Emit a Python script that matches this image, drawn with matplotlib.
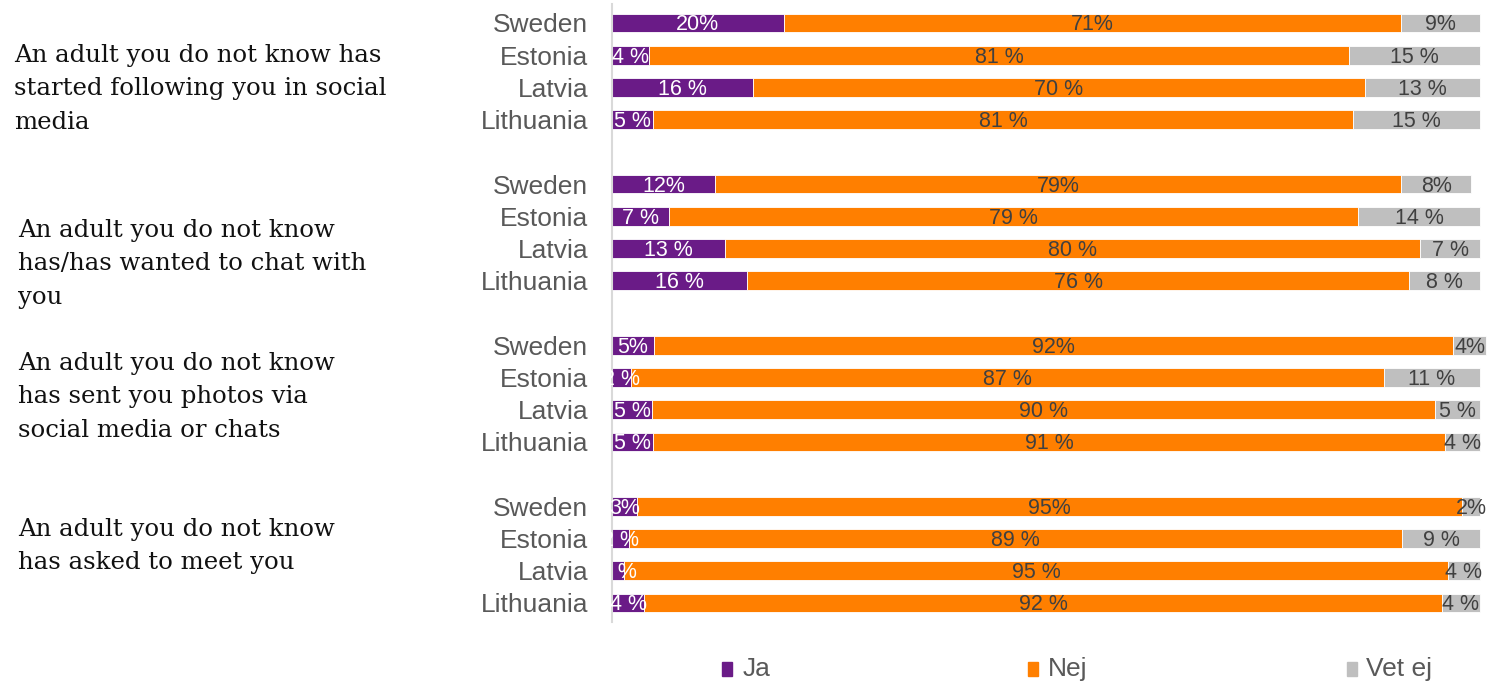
import matplotlib
matplotlib.use("Agg")
import matplotlib.pyplot as plt
from matplotlib.patches import Rectangle

countries = ["Sweden", "Estonia", "Latvia", "Lithuania"]
questions = [
    "An adult you do not know has\nstarted following you in social\nmedia",
    "An adult you do not know\nhas/has wanted to chat with\nyou",
    "An adult you do not know\nhas sent you photos via\nsocial media or chats",
    "An adult you do not know\nhas asked to meet you",
]
# values per question, per country (Sweden, Estonia, Latvia, Lithuania)
ja = [
    [19.8, 4.3, 16.3, 4.7],
    [11.9, 6.6, 13.0, 15.6],
    [4.8, 2.2, 4.6, 4.7],
    [2.9, 2.0, 1.4, 3.7],
]
nej = [
    [71.1, 80.6, 70.4, 80.7],
    [79.0, 79.4, 80.1, 76.2],
    [92.1, 86.7, 90.2, 91.3],
    [95.0, 89.0, 94.9, 91.9],
]
vet_ej = [
    [9.1, 15.1, 13.3, 14.6],
    [8.1, 14.0, 6.9, 8.2],
    [3.8, 11.1, 5.2, 4.0],
    [2.1, 9.0, 3.7, 4.4],
]
series_names = ["Ja", "Nej", "Vet ej"]
colors = ["#6A1B87", "#FF7F00", "#BFBFBF"]
label_colors = ["white", "#404040", "#404040"]

W, H = 1487, 681
fig = plt.figure(figsize=(W / 100, H / 100), dpi=100)

ax_left, ax_right = 612, 1480
row0, row_last = 23, 603
n_last = 3 * 5 + 3
unit = (row_last - row0) / n_last
ylo, yhi = -0.6, n_last + 0.6
top_px = row0 - 0.6 * unit
bot_px = row_last + 0.6 * unit
ax = fig.add_axes([ax_left / W, 1 - bot_px / H, (ax_right - ax_left) / W, (bot_px - top_px) / H])
ax.set_xlim(0, 100)
ax.set_ylim(yhi, ylo)

positions, ylabels = [], []
for g in range(4):
    for c in range(4):
        y = g * 5 + c
        positions.append(y)
        ylabels.append(countries[c])
        vals = [ja[g][c], nej[g][c], vet_ej[g][c]]
        left = 0
        for s, v in enumerate(vals):
            ax.barh(y, v, left=left, height=0.58, color=colors[s],
                    edgecolor="white", linewidth=0.6, clip_on=False)
            sep = "%" if c == 0 else " %"
            ax.text(left + v / 2, y + 0.06, f"{int(round(v))}{sep}", ha="center", va="center",
                    color=label_colors[s], fontsize=15.5, family="Liberation Sans", clip_on=False)
            left += v

ax.set_yticks(positions)
ax.set_yticklabels(ylabels, fontsize=19, color="#595959", family="Liberation Sans")
ax.tick_params(axis="y", length=0, pad=17)
ax.set_xticks([])
for s in ["top", "right", "bottom"]:
    ax.spines[s].set_visible(False)
ax.spines["left"].set_color("#D9D9D9")
ax.spines["left"].set_linewidth(1.5)

# question texts
q_pos = [(14, 89), (18, 264), (18, 397), (18, 546)]
for q, (x, y) in zip(questions, q_pos):
    fig.text(x / W, 1 - y / H, q, ha="left", va="center", fontsize=17.6,
             family="DejaVu Serif", color="#111111", linespacing=1.58)

# legend
leg = [(722, 743), (1028, 1048), (1347, 1366)]
for (sx, tx), name, col in zip(leg, series_names, colors):
    fig.patches.append(Rectangle((sx / W, 1 - 676 / H), 10 / W, 14 / H,
                                 transform=fig.transFigure, color=col))
    fig.text(tx / W, 1 - 669 / H, name, ha="left", va="center", fontsize=19,
             family="Liberation Sans", color="#595959")

fig.savefig("out.png", dpi=100)
